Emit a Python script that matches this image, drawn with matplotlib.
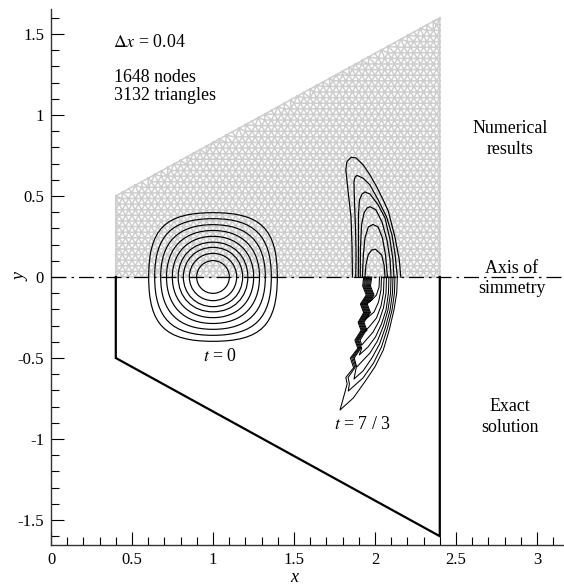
import numpy as np
import matplotlib
matplotlib.use('Agg')
import matplotlib.pyplot as plt
import matplotlib.tri as mtri
from matplotlib.path import Path
from matplotlib.patches import PathPatch

plt.rcParams['font.family'] = ['Liberation Serif', 'DejaVu Serif']
plt.rcParams['mathtext.fontset'] = 'stix'

# mesh domain
mesh_x = [0.4, 2.4]
mesh_top = [0.5, 1.6]
mesh_dx = 0.04
mesh_dy = 0.0346

# exact solution domain
exact_x = [0.4, 0.4, 2.4, 2.4]
exact_y = [0.0, -0.5, -1.6, 0.0]

# t = 0 contours : half size and corner position (as fraction of half size)
t0_center = 1.0
t0_half = [0.397, 0.360, 0.323, 0.287, 0.251, 0.215, 0.183, 0.146, 0.101]
t0_corner = [0.78, 0.765, 0.75, 0.735, 0.725, 0.72, 0.715, 0.71, 0.707]

# t = 7/3 numerical contours (upper half)
num_x1 = [1.861, 1.858, 1.852, 1.833, 1.820, 1.826, 1.852, 1.883, 1.928, 1.969, 2.011, 2.051, 2.082, 2.123, 2.150, 2.159]
num_y1 = [0, .198, .370, .537, .660, .710, .739, .735, .691, .630, .556, .475, .407, .247, .105, 0]
num_x2 = [1.881, 1.883, 1.880, 1.873, 1.870, 1.877, 1.889, 1.928, 1.969, 2.020, 2.072, 2.105, 2.123, 2.138]
num_y2 = [0, .136, .290, .475, .586, .617, .627, .609, .568, .475, .370, .259, .148, 0]
num_x3 = [1.897, 1.898, 1.898, 1.904, 1.920, 1.938, 1.969, 2.020, 2.062, 2.093, 2.111, 2.117]
num_y3 = [0, .198, .383, .475, .512, .525, .512, .444, .364, .228, .105, 0]
num_x4 = [1.909, 1.910, 1.917, 1.932, 1.951, 1.969, 2.006, 2.043, 2.074, 2.093, 2.099]
num_y4 = [0, .167, .321, .395, .426, .434, .414, .340, .228, .105, 0]
num_x5 = [1.922, 1.928, 1.938, 1.959, 1.988, 2.019, 2.046, 2.065, 2.077]
num_y5 = [0, .136, .241, .309, .324, .309, .241, .136, 0]
num_x6 = [1.938, 1.944, 1.959, 1.981, 2.003, 2.041, 2.056, 2.062]
num_y6 = [0, .074, .140, .167, .171, .136, .074, 0]

# t = 7/3 exact contours (lower half), right foot -> tip -> left foot
ex_x1 = [2.138, 2.134, 2.117, 2.088, 2.051, 2.000, 1.938, 1.866, 1.784, 1.812, 1.828, 1.820, 1.868, 1.848, 1.894, 1.876, 1.914, 1.896, 1.930, 1.910, 1.946, 1.924, 1.930]
ex_y1 = [0, -.099, -.204, -.327, -.451, -.554, -.646, -.747, -.821, -.72, -.66, -.62, -.56, -.50, -.44, -.39, -.33, -.28, -.22, -.167, -.111, -.056, 0]
ex_x2 = [2.123, 2.120, 2.105, 2.077, 2.040, 1.991, 1.926, 1.835, 1.842, 1.834, 1.876, 1.856, 1.900, 1.882, 1.920, 1.902, 1.936, 1.916, 1.952, 1.930, 1.936]
ex_y2 = [0, -.099, -.204, -.315, -.432, -.531, -.623, -.704, -.66, -.62, -.56, -.50, -.44, -.39, -.33, -.28, -.22, -.167, -.111, -.056, 0]
ex_x3 = [2.111, 2.108, 2.093, 2.065, 2.028, 1.981, 1.926, 1.870, 1.884, 1.864, 1.906, 1.888, 1.926, 1.908, 1.942, 1.922, 1.958, 1.936, 1.942]
ex_y3 = [0, -.099, -.204, -.309, -.414, -.500, -.580, -.630, -.56, -.50, -.44, -.39, -.33, -.28, -.22, -.167, -.111, -.056, 0]
ex_x4 = [2.099, 2.096, 2.080, 2.052, 2.015, 1.969, 1.887, 1.872, 1.912, 1.894, 1.932, 1.914, 1.948, 1.928, 1.964, 1.942, 1.949]
ex_y4 = [0, -.099, -.204, -.302, -.395, -.469, -.556, -.50, -.44, -.39, -.33, -.28, -.22, -.167, -.111, -.056, 0]
ex_x5 = [2.086, 2.083, 2.068, 2.040, 2.003, 1.957, 1.903, 1.918, 1.900, 1.938, 1.920, 1.954, 1.934, 1.970, 1.948, 1.955]
ex_y5 = [0, -.099, -.204, -.290, -.370, -.432, -.481, -.44, -.39, -.33, -.28, -.22, -.167, -.111, -.056, 0]
ex_x6 = [2.071, 2.068, 2.052, 2.025, 1.988, 1.918, 1.908, 1.944, 1.926, 1.960, 1.940, 1.976, 1.954, 1.961]
ex_y6 = [0, -.099, -.191, -.272, -.340, -.420, -.39, -.33, -.28, -.22, -.167, -.111, -.056, 0]
ex_x7 = [2.056, 2.052, 2.037, 2.009, 1.969, 1.928, 1.950, 1.932, 1.966, 1.946, 1.982, 1.960, 1.967]
ex_y7 = [0, -.099, -.179, -.253, -.302, -.346, -.33, -.28, -.22, -.167, -.111, -.056, 0]
ex_x8 = [2.040, 2.037, 2.022, 1.994, 1.938, 1.972, 1.952, 1.988, 1.966, 1.974]
ex_y8 = [0, -.080, -.154, -.216, -.265, -.22, -.167, -.111, -.056, 0]
ex_x9 = [2.028, 2.025, 2.009, 1.981, 1.955, 1.970, 1.994, 1.972, 1.980]
ex_y9 = [0, -.062, -.111, -.142, -.160, -.150, -.111, -.056, 0]

# axes
x_ticks = [0, 0.5, 1, 1.5, 2, 2.5, 3]
x_labels = ['0', '0.5', '1', '1.5', '2', '2.5', '3']
y_ticks = [-1.5, -1, -0.5, 0, 0.5, 1, 1.5]
y_labels = ['-1.5', '-1', '-0.5', '0', '0.5', '1', '1.5']
x_minor = np.arange(0, 3.17, 0.1)
y_minor = np.arange(-1.6, 1.61, 0.1)


def build_mesh():
    # staggered rows, plus nodes along the left, right and slanted sides
    xs = []
    ys = []
    slope = (mesh_top[1] - mesh_top[0]) / (mesh_x[1] - mesh_x[0])
    nrow = int(mesh_top[1] / mesh_dy) + 1
    ncol = int(round((mesh_x[1] - mesh_x[0]) / mesh_dx))
    for j in range(nrow):
        y = j * mesh_dy
        for i in range(ncol + 1):
            x = mesh_x[0] + i * mesh_dx
            if j % 2 == 1:
                x = x + mesh_dx / 2
            top = mesh_top[0] + slope * (x - mesh_x[0])
            if x <= mesh_x[1] - 0.01 and y <= top - 0.6 * mesh_dy:
                xs.append(x)
                ys.append(y)
        if y <= mesh_top[0]:
            xs.append(mesh_x[0])
            ys.append(y)
        xs.append(mesh_x[1])
        ys.append(y)
    for i in range(ncol + 1):
        x = mesh_x[0] + i * mesh_dx
        xs.append(x)
        ys.append(mesh_top[0] + slope * (x - mesh_x[0]))
    pts = np.unique(np.round(np.column_stack((xs, ys)), 6), axis=0)
    return mtri.Triangulation(pts[:, 0], pts[:, 1])


def rounded_square(cx, a, d):
    # closed curve made of four cubic pieces
    k = (8 * d - 4) / 3 * a
    verts = [(cx + a, 0), (cx + a, k), (cx + k, a), (cx, a),
             (cx - k, a), (cx - a, k), (cx - a, 0),
             (cx - a, -k), (cx - k, -a), (cx, -a),
             (cx + k, -a), (cx + a, -k), (cx + a, 0)]
    codes = [Path.MOVETO] + [Path.CURVE4] * 12
    return Path(verts, codes)


fig = plt.figure(figsize=(5.64, 5.86), dpi=100)
ax = fig.add_axes([51 / 564, (586 - 545) / 586, 513 / 564, 536 / 586])
ax.set_xlim(0, 513 / 162)
ax.set_ylim(-268 / 162, 268 / 162)

tri = build_mesh()
ax.triplot(tri, color='#cdcdcd', lw=1.1, zorder=1)

# axis of symmetry
ax.plot([0, 513 / 162], [0, 0], color='k', lw=0.9, ls=(0, (12, 4, 2, 4)), zorder=3)

# exact solution boundary
ax.plot(exact_x, exact_y, color='k', lw=1.6, zorder=3, solid_joinstyle='miter')

for a, d in zip(t0_half, t0_corner):
    ax.add_patch(PathPatch(rounded_square(t0_center, a, d), fc='none', ec='k', lw=0.85, zorder=4))

num_x = [num_x1, num_x2, num_x3, num_x4, num_x5, num_x6]
num_y = [num_y1, num_y2, num_y3, num_y4, num_y5, num_y6]
for x, y in zip(num_x, num_y):
    ax.plot(x, y, color='k', lw=0.85, zorder=4)

ex_x = [ex_x1, ex_x2, ex_x3, ex_x4, ex_x5, ex_x6, ex_x7, ex_x8, ex_x9]
ex_y = [ex_y1, ex_y2, ex_y3, ex_y4, ex_y5, ex_y6, ex_y7, ex_y8, ex_y9]
for x, y in zip(ex_x, ex_y):
    ax.plot(x, y, color='k', lw=0.75, zorder=4)

for s in ['top', 'right']:
    ax.spines[s].set_visible(False)
for s in ['left', 'bottom']:
    ax.spines[s].set_linewidth(1.0)
    ax.spines[s].set_color('#333333')

ax.set_xticks(x_ticks)
ax.set_xticklabels(x_labels)
ax.set_yticks(y_ticks)
ax.set_yticklabels(y_labels)
ax.set_xticks(x_minor, minor=True)
ax.set_yticks(y_minor, minor=True)
ax.tick_params(which='major', direction='in', length=9.4, width=0.8, labelsize=12, pad=5)
ax.tick_params(which='minor', direction='in', length=5.8, width=0.8)

ax.set_xlabel('x', style='italic', fontsize=13)
ax.set_ylabel('y', style='italic', fontsize=13)
ax.xaxis.set_label_coords(0.474, -0.045)
ax.yaxis.set_label_coords(-0.042, 0.5)

fs = 12.9
ax.text(0.38, 1.45, r'$\Delta x$ = 0.04', fontsize=fs, va='center', ha='left')
ax.text(0.389, 1.23, '1648 nodes', fontsize=fs, va='center', ha='left')
ax.text(0.389, 1.12, '3132 triangles', fontsize=fs, va='center', ha='left')
ax.text(2.833, 0.916, 'Numerical', fontsize=fs, va='center', ha='center')
ax.text(2.833, 0.79, 'results', fontsize=fs, va='center', ha='center')
ax.text(2.846, 0.052, 'Axis of', fontsize=fs, va='center', ha='center')
ax.text(2.846, -0.068, 'simmetry', fontsize=fs, va='center', ha='center')
ax.text(2.833, -0.80, 'Exact', fontsize=fs, va='center', ha='center')
ax.text(2.833, -0.932, 'solution', fontsize=fs, va='center', ha='center')
ax.text(1.043, -0.49, r'$t$ = 0', fontsize=fs, va='center', ha='center')
ax.text(1.926, -0.91, r'$t$ = 7 / 3', fontsize=fs, va='center', ha='center')

fig.savefig('out.png', dpi=100)
